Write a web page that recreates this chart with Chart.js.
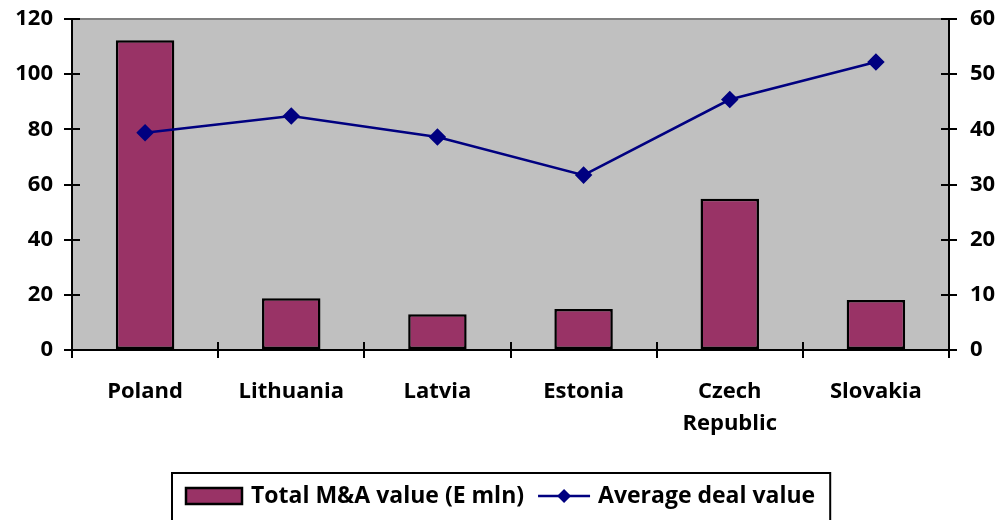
<!DOCTYPE html>
<html>
<head>
<meta charset="utf-8">
<script src="https://cdn.jsdelivr.net/npm/chart.js@4.4.1/dist/chart.umd.min.js"></script>
<style>
  html, body { margin: 0; padding: 0; background: #fff; }
  #wrap { width: 1000px; height: 520px; }
</style>
</head>
<body>
<div id="wrap"><canvas id="grafica" width="1000" height="520"></canvas></div>
<script>
const paises = ['Poland', 'Lithuania', 'Latvia', 'Estonia', ['Czech', 'Republic'], 'Slovakia']
const valorTotal = [112.3, 18.8, 13, 14.9, 54.8, 18.1]
const valorPromedio = [39.4, 42.4, 38.6, 31.7, 45.4, 52.2]
const etiquetas = ['Total M&A value (E mln)', 'Average deal value']

const fuente = '"Open Sans", "DejaVu Sans", sans-serif'
const granate = '#993366'
const azul = '#000080'

// fondo gris del área de trazado + marcas de los ejes hacia dentro
const fondo = {
  id: 'fondo',
  beforeDraw(chart) {
    const { ctx, chartArea: a } = chart
    ctx.save()
    ctx.fillStyle = '#c0c0c0'
    ctx.fillRect(a.left, a.top, a.right - a.left, a.bottom - a.top)
    ctx.strokeStyle = '#808080'
    ctx.lineWidth = 2
    ctx.beginPath()
    ctx.moveTo(a.left, a.top)
    ctx.lineTo(a.right, a.top)
    ctx.stroke()
    ctx.restore()
  },
  afterDatasetsDraw(chart) {
    const { ctx, chartArea: a, scales } = chart
    ctx.save()
    ctx.strokeStyle = '#000'
    ctx.lineWidth = 2
    ctx.beginPath()
    scales.y.ticks.forEach(t => {
      const py = Math.round(scales.y.getPixelForValue(t.value))
      ctx.moveTo(a.left, py); ctx.lineTo(a.left + 8, py)
    })
    scales.y1.ticks.forEach(t => {
      const py = Math.round(scales.y1.getPixelForValue(t.value))
      ctx.moveTo(a.right, py); ctx.lineTo(a.right - 8, py)
    })
    const n = paises.length
    for (let i = 0; i <= n; i++) {
      const px = Math.round(a.left + (a.right - a.left) * i / n)
      ctx.moveTo(px, a.bottom); ctx.lineTo(px, a.bottom - 8)
    }
    ctx.stroke()
    ctx.restore()
  }
}

// leyenda dibujada a mano (caja + línea con rombo)
const leyenda = {
  id: 'leyenda',
  afterDraw(chart) {
    const { ctx } = chart
    ctx.save()
    ctx.font = 'bold 23px ' + fuente
    ctx.textBaseline = 'middle'
    const w1 = ctx.measureText(etiquetas[0]).width
    const w2 = ctx.measureText(etiquetas[1]).width
    const total = 14 + 56 + 9 + w1 + 14 + 52 + 8 + w2 + 15
    const x0 = Math.round(501 - total / 2)
    const cy = 496

    ctx.strokeStyle = '#000'
    ctx.lineWidth = 2
    ctx.strokeRect(x0, 473, total, 60)

    let x = x0 + 14
    ctx.fillStyle = granate
    ctx.fillRect(x, 488, 56, 16)
    ctx.lineWidth = 2.5
    ctx.strokeRect(x, 488, 56, 16)
    x += 56 + 9

    ctx.fillStyle = '#000'
    ctx.fillText(etiquetas[0], x, cy)
    x += w1 + 14

    ctx.strokeStyle = azul
    ctx.lineWidth = 2.5
    ctx.beginPath(); ctx.moveTo(x, cy); ctx.lineTo(x + 52, cy); ctx.stroke()
    ctx.fillStyle = azul
    const mx = x + 26
    ctx.beginPath()
    ctx.moveTo(mx, cy - 7); ctx.lineTo(mx + 7, cy); ctx.lineTo(mx, cy + 7); ctx.lineTo(mx - 7, cy)
    ctx.closePath(); ctx.fill()
    x += 52 + 8

    ctx.fillStyle = '#000'
    ctx.fillText(etiquetas[1], x, cy)
    ctx.restore()
  }
}

new Chart(document.getElementById('grafica'), {
  type: 'bar',
  data: {
    labels: paises,
    datasets: [
      {
        type: 'line',
        label: etiquetas[1],
        data: valorPromedio,
        yAxisID: 'y1',
        borderColor: azul,
        backgroundColor: azul,
        borderWidth: 2.5,
        pointStyle: 'rectRot',
        pointRadius: 7,
        pointHoverRadius: 7,
        tension: 0,
        order: 0
      },
      {
        label: etiquetas[0],
        data: valorTotal,
        yAxisID: 'y',
        backgroundColor: granate,
        borderColor: '#000',
        borderWidth: 2.5,
        borderSkipped: false,
        categoryPercentage: 1,
        barPercentage: 0.4,
        order: 1
      }
    ]
  },
  options: {
    responsive: false,
    animation: false,
    layout: { padding: { top: 19, left: 0, right: 0, bottom: 0 } },
    plugins: { legend: { display: false }, tooltip: { enabled: false } },
    scales: {
      x: {
        grid: { drawOnChartArea: false, offset: true, tickLength: 8, color: '#000', lineWidth: 2 },
        border: { color: '#000', width: 2 },
        ticks: { color: '#000', padding: 18, maxRotation: 0, font: { family: fuente, size: 22, weight: 'bold', lineHeight: 1.45 } },
        afterFit(s) { s.height = 170; s.paddingLeft = 0; s.paddingRight = 0 }
      },
      y: {
        position: 'left',
        min: 0, max: 120,
        ticks: { stepSize: 20, color: '#000', padding: 11, font: { family: fuente, size: 22, weight: 'bold' } },
        grid: { drawOnChartArea: false, tickLength: 8, color: '#000', lineWidth: 2 },
        border: { color: '#000', width: 2 },
        afterFit(s) { s.width = 72; s.paddingTop = 0; s.paddingBottom = 0 }
      },
      y1: {
        position: 'right',
        min: 0, max: 60,
        ticks: { stepSize: 10, color: '#000', padding: 13, font: { family: fuente, size: 22, weight: 'bold' } },
        grid: { drawOnChartArea: false, tickLength: 8, color: '#000', lineWidth: 2 },
        border: { color: '#000', width: 2 },
        afterFit(s) { s.width = 51; s.paddingTop = 0; s.paddingBottom = 0 }
      }
    }
  },
  plugins: [fondo, leyenda]
})
</script>
</body>
</html>
